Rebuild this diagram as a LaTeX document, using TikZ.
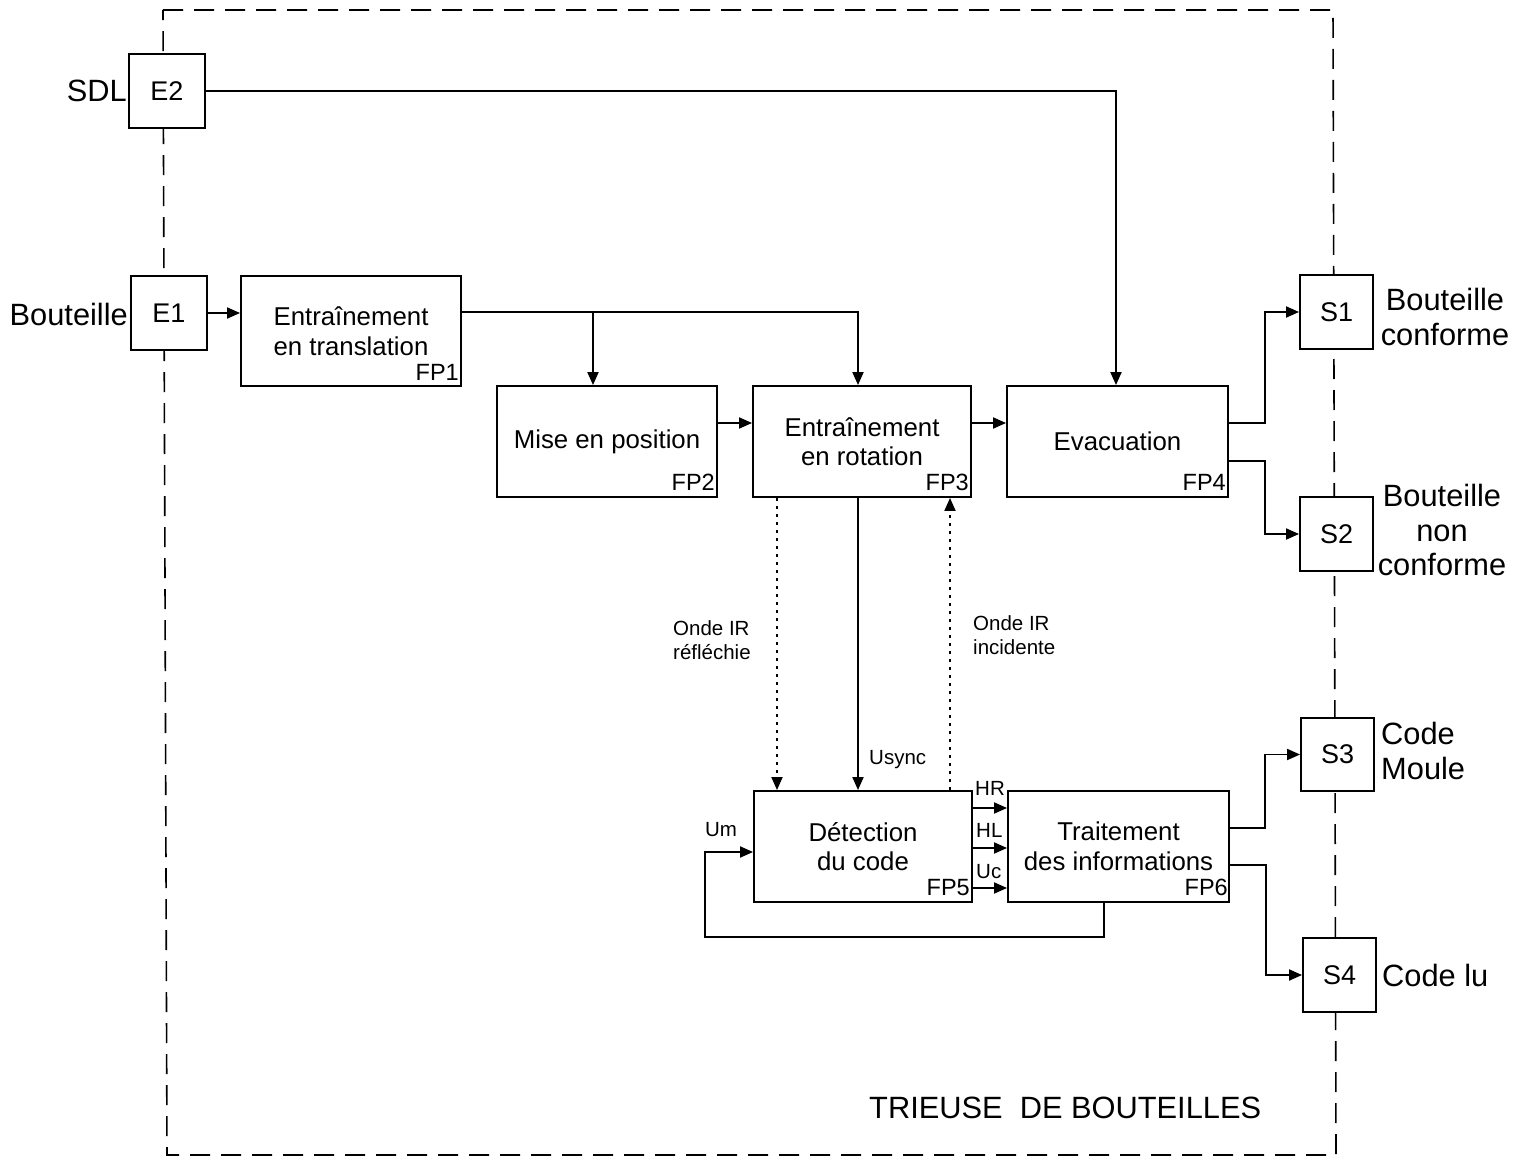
\documentclass[tikz,border=0pt]{standalone}
\usepackage{fontspec}
\setmainfont{Liberation Sans}
\usetikzlibrary{arrows.meta}
\tikzset{
  box/.style={draw, line width=1.9pt, fill=white, inner sep=0pt, align=center, font=\fontsize{25.8}{29.5}\selectfont},
  iobox/.style={draw, line width=1.9pt, fill=white, inner sep=0pt, font=\fontsize{27}{30}\selectfont},
  fplab/.style={inner sep=0pt, anchor=south east, font=\fontsize{23.5}{26}\selectfont},
  biglab/.style={inner sep=0pt, font=\fontsize{30.8}{34.5}\selectfont},
  smlab/.style={inner sep=0pt, align=left, font=\fontsize{20.5}{24}\selectfont},
  arr/.style={line width=1.9pt, -{Triangle[length=13pt,width=11pt]}},
  dotarr/.style={line width=1.9pt, dash pattern=on 3pt off 5pt, -{Triangle[length=13pt,width=11pt]}},
  border/.style={line width=1.6pt, dash pattern=on 20pt off 11pt},
}
\begin{document}
\begin{tikzpicture}[x=1pt,y=-1pt]
\useasboundingbox (0,0) rectangle (1525,1158);
% system boundary
\draw[border] (163,10) -- (1333,10) -- (1336,1155) -- (167,1155) -- cycle;
% boxes
\node[iobox, minimum width=76pt, minimum height=74pt] (E2) at (167,91) {E2};
\node[iobox, minimum width=76pt, minimum height=74pt] (E1) at (169,313) {E1};
\node[box, minimum width=220pt, minimum height=110pt] (FP1) at (351,331) {Entraînement\\en translation};
\node[box, minimum width=220pt, minimum height=111pt] (FP2) at (607,441.5) {Mise en position};
\node[box, minimum width=218pt, minimum height=111pt] (FP3) at (862,441.5) {Entraînement\\en rotation};
\node[box, minimum width=221pt, minimum height=111pt] (FP4) at (1117.5,441.5) {Evacuation};
\node[box, minimum width=218pt, minimum height=111pt] (FP5) at (863,846.5) {Détection\\du code};
\node[box, minimum width=221pt, minimum height=111pt] (FP6) at (1118.5,846.5) {Traitement\\des informations};
\node[iobox, minimum width=73pt, minimum height=74pt] (S1) at (1336.5,312) {S1};
\node[iobox, minimum width=73pt, minimum height=74pt] (S2) at (1336.5,534) {S2};
\node[iobox, minimum width=73pt, minimum height=73pt] (S3) at (1337.5,754.5) {S3};
\node[iobox, minimum width=73pt, minimum height=74pt] (S4) at (1339.5,975) {S4};
% FP labels
\node[fplab] (L1) at ([xshift=-3pt,yshift=6pt]FP1.south east) {FP1};
\node[fplab] (L2) at ([xshift=-3pt,yshift=7pt]FP2.south east) {FP2};
\node[fplab] (L3) at ([xshift=-3pt,yshift=7pt]FP3.south east) {FP3};
\node[fplab] (L4) at ([xshift=-3pt,yshift=7pt]FP4.south east) {FP4};
\node[fplab] (L5) at ([xshift=-3pt,yshift=7pt]FP5.south east) {FP5};
\node[fplab] (L6) at ([xshift=-2pt,yshift=7pt]FP6.south east) {FP6};
% outer labels
\node[biglab, anchor=east] (tSDL) at (127,91) {SDL};
\node[biglab, anchor=east] (tBout) at (128,314) {Bouteille};
\node[biglab, align=center] (tS1) at (1445,317) {Bouteille\\conforme};
\node[biglab, align=center] (tS2) at (1442,530) {Bouteille\\non\\conforme};
\node[biglab, align=left, anchor=west] (tS3) at (1381,751) {Code\\Moule};
\node[biglab, anchor=west] (tS4) at (1382,975) {Code lu};
\node[biglab, anchor=west] (tTitle) at (869,1108) {TRIEUSE\ \ DE BOUTEILLES};
% small labels
\node[smlab, anchor=west] (tRefl) at (673,640) {Onde IR\\réfléchie};
\node[smlab, anchor=west] (tInc) at (973,635) {Onde IR\\incidente};
\node[smlab, anchor=west] (tUsync) at (869,760) {Usync};
\node[smlab] (tUm) at (721,830) {Um};
\node[smlab, anchor=west] (tHR) at (975,788) {HR};
\node[smlab, anchor=west] (tHL) at (976,830) {HL};
\node[smlab, anchor=west] (tUc) at (976,872) {Uc};
% connectors
\draw[arr] (E2.east) -| ([xshift=-1.5pt]FP4.north);
\draw[arr] (E1.east) -- (E1.east -| FP1.west);
\draw[arr] ([yshift=19pt]FP1.east) -| ([xshift=-4pt]FP3.north);
\coordinate (b1) at (593,312);
\draw[arr] (b1) -- (b1 |- FP2.north);
\draw[arr] ([yshift=18.5pt]FP2.east) -- ([yshift=18.5pt]FP3.west);
\draw[arr] ([yshift=18.5pt]FP3.east) -- ([yshift=18.5pt]FP4.west);
\draw[arr] ([yshift=18.5pt]FP4.east) -- ++(36,0) |- (S1.west);
\draw[arr] ([yshift=-19.5pt]FP4.east) -- ++(36,0) |- (S2.west);
\draw[arr] ([yshift=18.5pt]FP6.east) -- ++(35,0) |- (S3.west);
\draw[arr] ([yshift=-18.5pt]FP6.east) -- ++(36,0) |- (S4.west);
\draw[dotarr] ([xshift=-85pt]FP3.south) -- ([xshift=-86pt]FP5.north);
\draw[arr] ([xshift=-4pt]FP3.south) -- ([xshift=-5pt]FP5.north);
\draw[dotarr] ([xshift=87pt]FP5.north) -- ([xshift=88pt]FP3.south);
\draw[arr] ([yshift=38.5pt]FP5.east) -- ([yshift=38.5pt]FP5.east -| FP6.west);
\draw[arr] ([yshift=-1.5pt]FP5.east) -- ([yshift=-1.5pt]FP5.east -| FP6.west);
\draw[arr] ([yshift=-41.5pt]FP5.east) -- ([yshift=-41.5pt]FP5.east -| FP6.west);
\coordinate (fb) at (705,937);
\draw[arr] ([xshift=-14.5pt]FP6.south) |- (fb) |- ([yshift=-5.5pt]FP5.west);
\end{tikzpicture}
\end{document}
